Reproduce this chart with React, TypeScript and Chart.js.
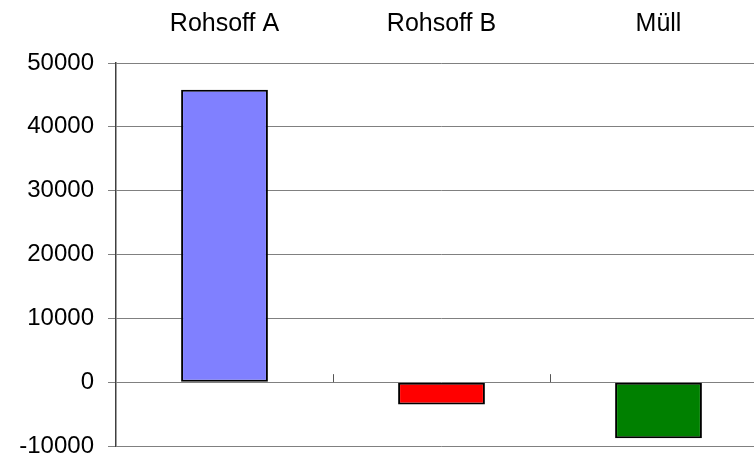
import React, { useEffect, useRef } from "react";
import { Chart, registerables } from "chart.js";

Chart.register(...registerables);

const categories = ["Rohsoff A", "Rohsoff B", "Müll"];
const values = [45800, -3500, -8800];
const barColors = ["#8080FF", "#FF0000", "#008000"];
const yMin = -10000;
const yMax = 50000;
const yStep = 10000;

const zeroTicks = {
  id: "zeroTicks",
  afterDraw(chart: any) {
    const x = chart.scales.x;
    const y = chart.scales.y;
    const ctx = chart.ctx;
    const y0 = y.getPixelForValue(0);
    ctx.save();
    ctx.strokeStyle = "#555555";
    ctx.lineWidth = 1;
    for (let i = 0; i < categories.length - 1; i++) {
      const bx = Math.round((x.getPixelForValue(i) + x.getPixelForValue(i + 1)) / 2) + 0.5;
      ctx.beginPath();
      ctx.moveTo(bx, y0 - 8);
      ctx.lineTo(bx, y0);
      ctx.stroke();
    }
    ctx.restore();
  },
};

export default function App() {
  const ref = useRef<HTMLCanvasElement>(null);
  useEffect(() => {
    document.body.style.margin = "0";
    const chart = new Chart(ref.current!, {
      type: "bar",
      data: {
        labels: categories,
        datasets: [
          {
            data: values,
            backgroundColor: barColors,
            borderColor: "#000000",
            borderWidth: 2,
            borderSkipped: false,
            barPercentage: 0.4,
            categoryPercentage: 1,
          },
        ],
      },
      options: {
        responsive: false,
        animation: false,
        layout: { padding: { left: 0, right: 3, top: 0, bottom: 10 } },
        plugins: { legend: { display: false }, tooltip: { enabled: false } },
        scales: {
          x: {
            position: "top",
            offset: true,
            grid: { display: false },
            border: { display: false },
            ticks: {
              color: "#000000",
              padding: 16,
              font: { family: "'Liberation Sans', Arial, sans-serif", size: 25 },
            },
            afterFit(scale: any) {
              scale.height = 63;
            },
          },
          y: {
            min: yMin,
            max: yMax,
            grid: { color: "#808080", tickLength: 8, lineWidth: 1 },
            border: { display: true, color: "#404040", width: 1.5 },
            ticks: {
              stepSize: yStep,
              color: "#000000",
              padding: 14,
              font: { family: "'Liberation Sans', Arial, sans-serif", size: 24 },
              callback: (v: any) => String(v),
            },
            afterFit(scale: any) {
              scale.width = 116;
              scale.paddingTop = 0;
              scale.paddingBottom = 0;
            },
          },
        },
      },
      plugins: [zeroTicks],
    });
    return () => chart.destroy();
  }, []);
  return (
    <div style={{ position: "fixed", left: 0, top: 0, width: 754, height: 456, overflow: "hidden", background: "#fff" }}>
      <canvas ref={ref} width={770} height={456} style={{ display: "block" }} />
    </div>
  );
}
